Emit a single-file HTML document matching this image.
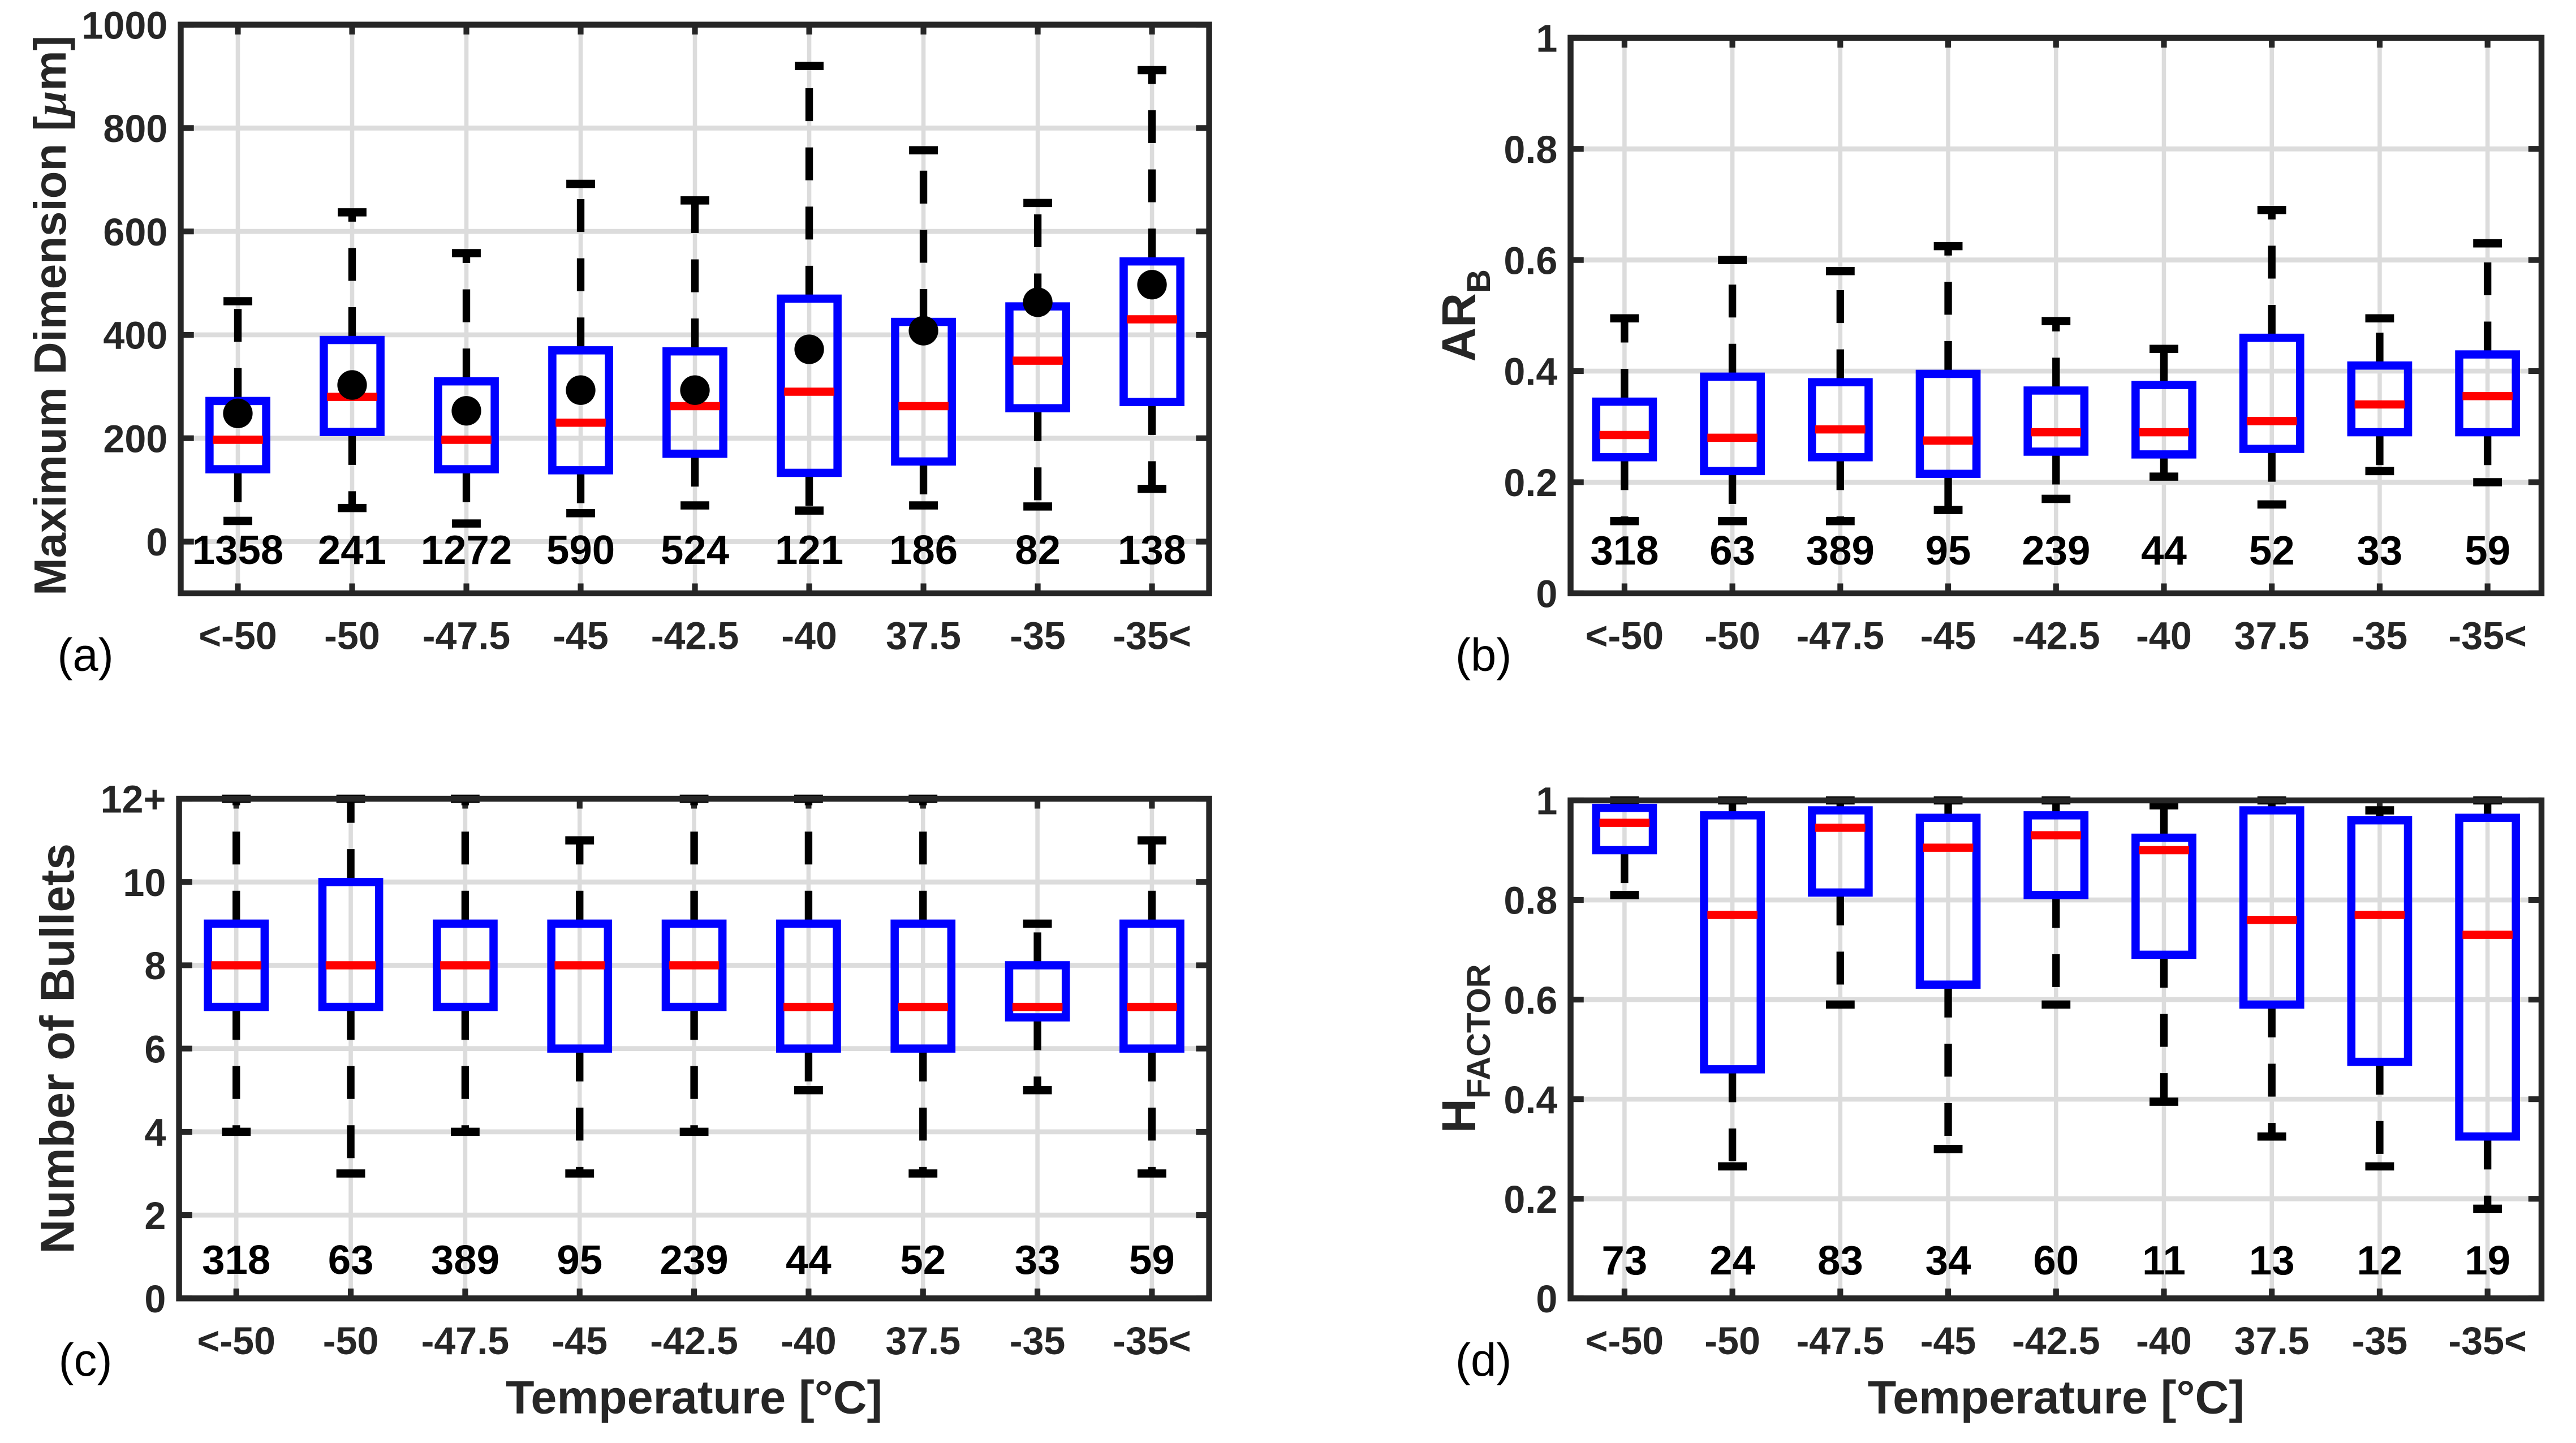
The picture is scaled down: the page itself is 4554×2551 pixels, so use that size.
<!DOCTYPE html>
<html><head><meta charset="utf-8"><style>
html,body{margin:0;padding:0;background:#fff;}
svg{display:block;}
text{font-family:"Liberation Sans",Arial,sans-serif;}
</style></head><body>
<svg id="fig" width="4554" height="2551" viewBox="0 0 1568 878" preserveAspectRatio="none" xmlns="http://www.w3.org/2000/svg"></svg>
<script>
const categories = ["<-50","-50","-47.5","-45","-42.5","-40","37.5","-35","-35<"];
// Panel a: Maximum Dimension
const aLo   = [40,65,35,55,70,60,70,68,102];
const aQ1   = [140,212,140,138,170,133,155,258,270];
const aMed  = [197,280,197,230,262,290,262,350,430];
const aQ3   = [272,390,310,370,368,470,425,455,542];
const aHi   = [465,637,558,692,660,920,757,655,912];
const aMean = [248,303,253,293,293,372,408,463,497];
const aN    = [1358,241,1272,590,524,121,186,82,138];
const aTicks = [0,200,400,600,800,1000];
// Panel b: AR_B
const bLo  = [0.13,0.13,0.13,0.15,0.17,0.21,0.16,0.22,0.20];
const bQ1  = [0.245,0.22,0.245,0.215,0.255,0.25,0.26,0.29,0.29];
const bMed = [0.285,0.28,0.295,0.275,0.29,0.29,0.31,0.34,0.355];
const bQ3  = [0.345,0.39,0.38,0.395,0.365,0.375,0.46,0.41,0.43];
const bHi  = [0.495,0.60,0.58,0.625,0.49,0.44,0.69,0.495,0.63];
const bN   = [318,63,389,95,239,44,52,33,59];
const bTicks = [0,0.2,0.4,0.6,0.8,1];
const bTickLabels = ["0","0.2","0.4","0.6","0.8","1"];
// Panel c: Number of Bullets
const cLo  = [4,3,4,3,4,5,3,5,3];
const cQ1  = [7,7,7,6,7,6,6,6.75,6];
const cMed = [8,8,8,8,8,7,7,7,7];
const cQ3  = [9,10,9,9,9,9,9,8,9];
const cHi  = [12,12,12,11,12,12,12,9,11];
const cN   = [318,63,389,95,239,44,52,33,59];
const cTicks = [0,2,4,6,8,10,12];
const cTickLabels = ["0","2","4","6","8","10","12+"];
// Panel d: H_FACTOR
const dLo  = [0.81,0.265,0.59,0.30,0.59,0.395,0.325,0.265,0.18];
const dQ1  = [0.90,0.46,0.815,0.63,0.81,0.69,0.59,0.475,0.325];
const dMed = [0.955,0.77,0.945,0.905,0.93,0.90,0.76,0.77,0.73];
const dQ3  = [0.985,0.97,0.98,0.965,0.97,0.925,0.98,0.96,0.965];
const dHi  = [1.0,1.0,1.0,1.0,1.0,0.99,1.0,0.98,1.0];
const dN   = [73,24,83,34,60,11,13,12,19];

const NS="http://www.w3.org/2000/svg";
const svg=document.getElementById('fig');
function mk(tag,attrs,parent){const e=document.createElementNS(NS,tag);for(const k in attrs)e.setAttribute(k,attrs[k]);(parent||svg).appendChild(e);return e;}

function panel(o){
  const g=mk('g',{});
  
  
  const X=i=>o.x0+(i+0.5)*(o.x1-o.x0)/categories.length;
  const Y=v=>o.y1-(v-o.ymin)/(o.ymax-o.ymin)*(o.y1-o.y0);
  categories.forEach((c,i)=>{const l=mk('line',{x1:X(i),x2:X(i),y1:o.y0,y2:o.y1,stroke:'#dcdcdc','stroke-width':2.6},g);
    });
  o.ticks.forEach(t=>{const l=mk('line',{x1:o.x0,x2:o.x1,y1:Y(t),y2:Y(t),stroke:'#dcdcdc','stroke-width':3},g);
    });
  categories.forEach((c,i)=>{
    mk('line',{x1:X(i),x2:X(i),y1:o.y0,y2:o.y0+6,stroke:'#262626','stroke-width':3.5},g);
    mk('line',{x1:X(i),x2:X(i),y1:o.y1,y2:o.y1-6,stroke:'#262626','stroke-width':3.5},g);
    const t=mk('text',{x:X(i),y:o.y1+34,'text-anchor':'middle','font-size':23.5,'font-weight':'bold',fill:'#262626'},g);
    t.textContent=c;
  });
  o.ticks.forEach((tv,k)=>{
    mk('line',{x1:o.x0,x2:o.x0+8,y1:Y(tv),y2:Y(tv),stroke:'#262626','stroke-width':3.5},g);
    mk('line',{x1:o.x1,x2:o.x1-8,y1:Y(tv),y2:Y(tv),stroke:'#262626','stroke-width':3.5},g);
    const t=mk('text',{x:o.x0-8,y:Y(tv)+8.5,'text-anchor':'end','font-size':23.5,'font-weight':'bold',fill:'#262626'},g);
    t.textContent=o.tickLabels?o.tickLabels[k]:String(tv);
  });
  const bw=34.5, cw=17.5;
  categories.forEach((c,i)=>{
    const x=X(i);
    const bg=mk('g',{},g);
    
    
    mk('line',{x1:x,x2:x,y1:Y(o.q3[i]),y2:Y(o.hi[i]),stroke:'#000','stroke-width':4.6,'stroke-dasharray':'20 16'},bg);
    mk('line',{x1:x,x2:x,y1:Y(o.q1[i]),y2:Y(o.lo[i]),stroke:'#000','stroke-width':4.6,'stroke-dasharray':'20 16'},bg);
    mk('line',{x1:x-cw/2,x2:x+cw/2,y1:Y(o.hi[i]),y2:Y(o.hi[i]),stroke:'#000','stroke-width':5},bg);
    mk('line',{x1:x-cw/2,x2:x+cw/2,y1:Y(o.lo[i]),y2:Y(o.lo[i]),stroke:'#000','stroke-width':5},bg);
    mk('rect',{x:x-bw/2,y:Y(o.q3[i]),width:bw,height:Y(o.q1[i])-Y(o.q3[i]),fill:'none',stroke:'#0000ff','stroke-width':5},bg);
    mk('line',{x1:x-bw/2+2,x2:x+bw/2-2,y1:Y(o.med[i]),y2:Y(o.med[i]),stroke:'#ff0000','stroke-width':5},bg);
    if(o.mean){const m=mk('circle',{cx:x,cy:Y(o.mean[i]),r:9,fill:'#000'},bg);
      }
    const t=mk('text',{x:x,y:Y(o.nv)+10.5,'text-anchor':'middle','font-size':25,'font-weight':'bold',fill:'#000'},bg);
    t.textContent=o.n[i];
  });
  const fr=mk('rect',{x:o.x0,y:o.y0,width:o.x1-o.x0,height:o.y1-o.y0,fill:'none',stroke:'#262626','stroke-width':3.6},g);
  
  const L=mk('text',{x:o.lx,y:o.y1+47,'text-anchor':'middle','font-size':28,fill:'#000'},g);
  L.textContent=o.letter;
  const yl=mk('text',{transform:`translate(${o.ylx},${o.ylc}) rotate(-90)`,'text-anchor':'middle','font-size':o.ylfs||29,'font-weight':'bold',fill:'#262626'},g);
  
  yl.innerHTML=o.ylabel;
  if(o.xlabel){const xl=mk('text',{x:(o.x0+o.x1)/2,y:o.y1+70,'text-anchor':'middle','font-size':28.5,'font-weight':'bold',fill:'#262626'},g);
    xl.textContent='Temperature [°C]';}
}
panel({name:'panel-a',x0:110,x1:736,y0:15,y1:361,ymin:-100,ymax:1000,ticks:aTicks,lo:aLo,q1:aQ1,med:aMed,q3:aQ3,hi:aHi,mean:aMean,n:aN,nv:-10,letter:'(a)',lx:52,ylx:40,ylc:192,ylfs:27.5,ylabel:'Maximum Dimension [<tspan font-style="italic" font-family="Liberation Serif">μ</tspan>m]'});
panel({name:'panel-b',x0:956,x1:1547,y0:23,y1:361,ymin:0,ymax:1,ticks:bTicks,tickLabels:bTickLabels,lo:bLo,q1:bQ1,med:bMed,q3:bQ3,hi:bHi,n:bN,nv:0.083,letter:'(b)',lx:903,ylx:898,ylc:192,ylabel:'AR<tspan font-size="20" dy="9">B</tspan>'});
panel({name:'panel-c',x0:109,x1:736,y0:486,y1:790,ymin:0,ymax:12,ticks:cTicks,tickLabels:cTickLabels,lo:cLo,q1:cQ1,med:cMed,q3:cQ3,hi:cHi,n:cN,nv:1,letter:'(c)',lx:52,ylx:45,ylc:638,xlabel:true,ylabel:'Number of Bullets'});
panel({name:'panel-d',x0:956,x1:1547,y0:487,y1:790,ymin:0,ymax:1,ticks:bTicks,tickLabels:bTickLabels,lo:dLo,q1:dQ1,med:dMed,q3:dQ3,hi:dHi,n:dN,nv:0.083,letter:'(d)',lx:903,ylx:898,ylc:638,xlabel:true,ylabel:'H<tspan font-size="20" dy="9">FACTOR</tspan>'});
</script>
</body></html>
